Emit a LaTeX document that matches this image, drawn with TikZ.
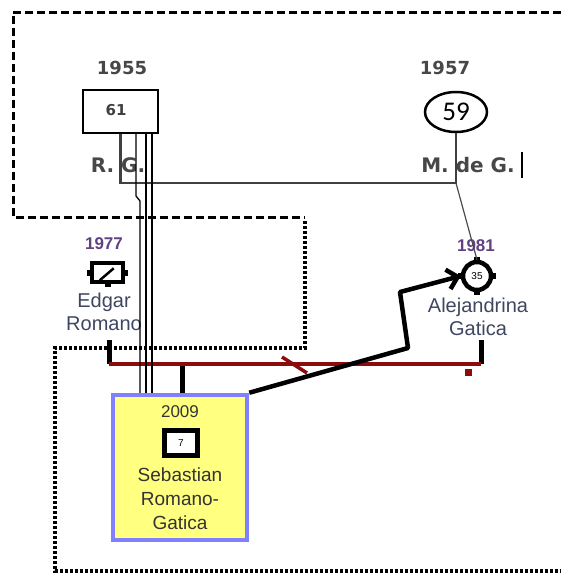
\documentclass[tikz,border=0pt]{standalone}
\usepackage{fontspec}
\setmainfont{Liberation Sans}
\newfontfamily\verdana{DejaVu Sans}
\newfontfamily\calibri{Carlito}
\usetikzlibrary{arrows.meta,shapes.geometric}
\definecolor{unionred}{RGB}{140,12,12}
\definecolor{yearpurple}{RGB}{96,66,128}
\definecolor{namegray}{RGB}{62,70,96}
\definecolor{childfill}{RGB}{255,255,128}
\definecolor{childline}{RGB}{128,128,255}
\begin{document}
\begin{tikzpicture}[x=1pt,y=-1pt,
    oldyear/.style={font=\verdana\bfseries\fontsize{18}{20}\selectfont,text=black!72},
    oldname/.style={font=\verdana\bfseries\fontsize{20}{22}\selectfont,text=black!72},
    newyear/.style={font=\bfseries\fontsize{17}{19}\selectfont,text=yearpurple},
    person/.style={font=\fontsize{20}{23}\selectfont,text=namegray,align=center},
    couple/.style={draw=black!75,line width=2.5pt},
    union/.style={draw=unionred,line width=3.5pt},
    stem/.style={draw=black,line width=5pt}]
    \useasboundingbox (0,0) rectangle (561,574);

    % household frames
    \draw[line width=3pt,dash pattern=on 8pt off 4pt] (561,12) -- (13,12) -- (13,217) -- (305,217);
    \draw[line width=4.5pt,dash pattern=on 3pt off 2pt] (305,221) -- (305,348) -- (55,348) -- (55,571) -- (561,571);

    % grandparents
    \node[oldyear] (y55) at (122,68) {1955};
    \node[draw,line width=1.2pt,minimum width=75pt,minimum height=43pt] (rg) at (120.5,111.5) {};
    \node[font=\verdana\bfseries\fontsize{15}{17}\selectfont,text=black!75] (rgage) at (116,110) {61};
    \node[oldname] (rgname) at (118,165) {R.\ G.};

    \node[oldyear] (y57) at (445,68) {1957};
    \node[draw,ellipse,line width=2.5pt,minimum width=62pt,minimum height=40pt,
          font=\calibri\fontsize{27}{29}\selectfont] (mg) at (456,112) {59};
    \node[oldname] (mgname) at (468,165) {M.\ de G.};
    \coordinate (cursor) at (522,152);
    \draw[line width=1.2pt] (cursor) -- ++(0,26);

    \coordinate (marr) at (456,183);
    \draw[couple] (rg.south) |- (marr) -- (mg.south);

    % parents
    \node[newyear] (y77) at (104,244) {1977};
    \node[draw,line width=4.5pt,minimum width=31pt,minimum height=19pt] (edgar) at (107.5,272.5) {};
    \foreach \a in {west,east,south}
        \fill (edgar.\a) +(-3,-3) rectangle +(3,3);
    \draw[line width=2.5pt] (edgar.south west) ++(10,-4) -- ++(14,-12);
    \node[person] (edgname) at (104,312) {Edgar\\Romano};

    \node[newyear] (y81) at (476,246) {1981};
    \node[draw,circle,line width=4.5pt,minimum size=28pt,inner sep=0pt,
          font=\fontsize{10}{11}\selectfont] (alej) at (477,276) {35};
    \foreach \a in {north,south,east,west}
        \fill (alej.\a) +(-3,-3) rectangle +(3,3);
    \node[person] (alejname) at (478,317) {Alejandrina\\Gatica};

    \draw[black!70,line width=1.2pt] (marr) -- (alej.north);

    % union line and child
    \coordinate (eu) at (109,364);
    \coordinate (au) at (481,364);
    \draw[stem] (109,340) -- (eu);
    \draw[stem] (481,340) -- (au);
    \draw[union] (eu) -- (au);
    \fill[unionred] (465,369) rectangle ++(7,7);
    \draw[unionred,line width=3.5pt] (282,357) -- (307,373);

    \node[draw=childline,fill=childfill,line width=4.5pt,minimum width=134pt,minimum height=145pt] (seb) at (180,467.5) {};
    \node[font=\fontsize{17}{19}\selectfont,text=black!80] (y09) at (180,412) {2009};
    \node[draw,line width=5.5pt,fill=white,minimum width=33pt,minimum height=25pt,inner sep=0pt,
          font=\fontsize{10}{11}\selectfont] (sebage) at (181,443) {7};
    \node[person,text=black!80,font=\fontsize{19}{24}\selectfont] (sebname) at (180,499) {Sebastian\\Romano-\\Gatica};

    \draw[stem] (182,366) -- (seb.north -| 182,0);
    % three lines from grandfather down to the grandchild
    \draw[line width=1.3pt] (rg.south -| 136,0) -- (136,196) -- (140,201) -- (seb.north -| 140,0);
    \foreach \xx in {146,152}
        \draw[line width=1.3pt] (rg.south -| \xx,0) -- (seb.north -| \xx,0);

    % move towards mother
    \coordinate (turn1) at (408,348);
    \coordinate (turn2) at (400,292);
    \draw[line width=4.5pt,line join=round,-{Straight Barb[length=10pt,width=20pt,line width=4.5pt]}]
        (seb.north east) -- (turn1) -- (turn2) -- (alej.west);
\end{tikzpicture}
\end{document}
